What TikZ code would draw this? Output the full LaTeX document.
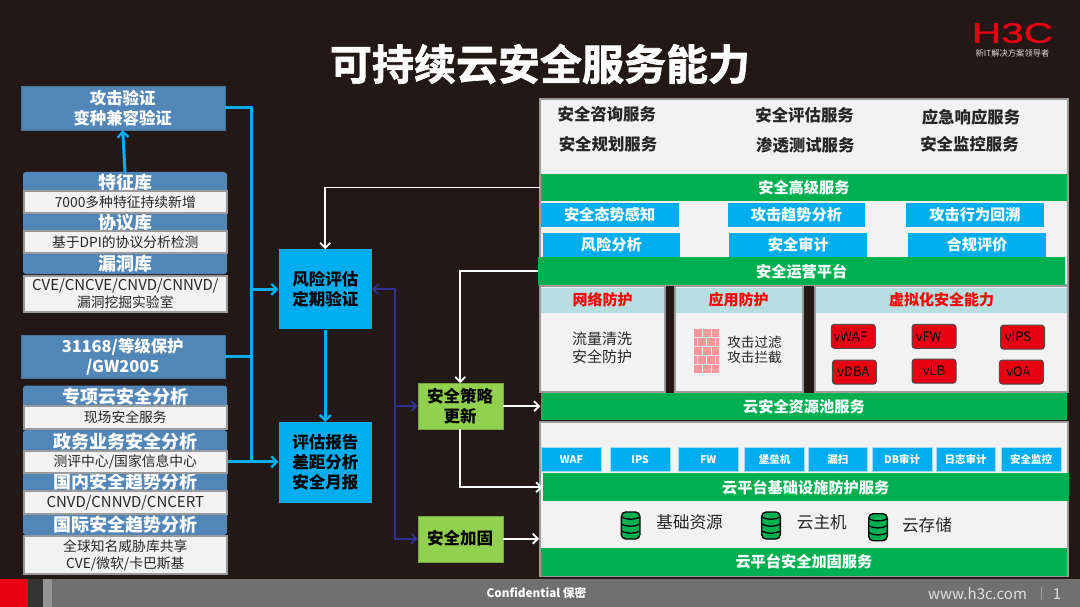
\documentclass[tikz,border=0pt]{standalone}
\usepackage{fontspec}
\setmainfont{Noto Sans CJK SC}
\newfontfamily\logofont[FakeBold=1.2]{Liberation Sans}
\newfontfamily\titlefont[FakeBold=1.6]{Noto Sans CJK SC Bold}
\usetikzlibrary{arrows.meta,shadows}
\definecolor{bgdark}{HTML}{231815}
\definecolor{steel}{HTML}{5286B7}
\definecolor{sky}{HTML}{00AEEF}
\definecolor{grass}{HTML}{92D050}
\definecolor{barg}{HTML}{00B050}
\definecolor{paper}{HTML}{F2F2F2}
\definecolor{rim}{HTML}{9A9A9A}
\definecolor{pale}{HTML}{B7DEE1}
\definecolor{navy}{HTML}{2E3192}
\definecolor{h3cred}{HTML}{E60012}
\definecolor{ink}{HTML}{262626}
\newcommand{\fs}[2]{\fontsize{#1}{#2}\selectfont}
\tikzset{
  sz/.style 2 args={minimum width=#1,minimum height=#2},
  steel box/.style={rectangle,fill=steel,draw=steel!85!black,inner sep=0pt,align=center,text=white,font=\fs{16.4}{20}\bfseries},
  head panel/.style={rectangle,rounded corners=3pt,fill=steel,inner sep=0pt},
  head text/.style={text=white,inner sep=0pt,font=\fs{18}{20}\bfseries},
  white box/.style={rectangle,fill=paper,draw=rim,line width=2pt,inner sep=0pt,align=center,text=ink,font=\fs{13.8}{16.8}},
  sky box/.style={rectangle,fill=sky,inner sep=0pt,align=center,text=black,font=\fs{16.5}{20}\bfseries},
  green box/.style={rectangle,fill=grass,draw=grass!80!black,inner sep=0pt,align=center,text=black,font=\fs{16.5}{20}\bfseries},
  panel/.style={rectangle,fill=paper,draw=rim,line width=2pt,inner sep=0pt},
  green bar/.style={rectangle,fill=barg,inner sep=0pt,text=white,font=\fs{15.2}{18}\bfseries},
  sky cell/.style={rectangle,fill=sky,inner sep=0pt,text=white,font=\fs{15.2}{18}\bfseries},
  tiny cell/.style={rectangle,fill=sky,draw=sky!40,line width=.5pt,inner sep=0pt,text=white,font=\fs{10.5}{12}\bfseries},
  svc/.style={inner sep=0pt,text=ink,font=\fs{16.4}{18}\bfseries},
  red head/.style={rectangle,fill=pale,inner sep=0pt,text=red,font=\fs{15}{18}\bfseries},
  plain text/.style={inner sep=0pt,text=ink,align=center},
  vbox/.style={rectangle,rounded corners=3pt,fill=h3cred,draw=black!70,line width=1pt,sz={44}{24},inner sep=0pt,text=black,font=\fs{13}{14},drop shadow={shadow xshift=0pt,shadow yshift=0pt,fill=black!60,opacity=.6}},
  blue line/.style={draw=sky,line width=3pt,arrows={-{Straight Barb[length=5.5pt,width=11pt,line width=2.4pt]}}},
  blue plain/.style={draw=sky,line width=3pt},
  navy line/.style={draw=navy,line width=2pt},
  navy tip/.style={arrows={-{Straight Barb[length=5pt,width=10pt,line width=1.8pt]}}},
  white line/.style={draw=white,line width=1.8pt,arrows={-{Straight Barb[length=5pt,width=10pt,line width=1.8pt]}}},
}
\begin{document}
\begin{tikzpicture}[x=1pt,y=-1pt]
\useasboundingbox (0,0) rectangle (1080,607);
\fill[bgdark] (0,0) rectangle (1080,607);
% title and logo
\node[text=white,inner sep=0pt] (title) at (540,64) {\titlefont\fs{42}{46}可持续云安全服务能力};
\node[text=h3cred,inner sep=0pt] (logo) at (1012.5,33) {\logofont\fs{28}{28}\scalebox{1.45}[1]{H3C}};
\node[text=white!85!black,inner sep=0pt] (slogan) at (1012.5,53) {\fs{8.3}{9}新IT解决方案领导者};
% footer
\fill[black!56] (0,579) rectangle (1080,607);
\fill[h3cred] (0,579) rectangle (28,607);
\fill[black!80] (28,579) rectangle (42.5,607);
\fill[black!42] (42.5,579) rectangle (52,607);
\node[text=white,inner sep=0pt] (conf) at (536.5,593) {\fs{11.7}{14}\bfseries Confidential 保密};
\node[text=white!88!black,inner sep=0pt] (web) at (977.5,594) {\fs{15}{18}www.h3c.com};
\node[text=white!70!black,inner sep=0pt] (sep) at (1041.5,594) {\fs{12}{14}|};
\node[text=white!88!black,inner sep=0pt] (page) at (1057,594) {\fs{15}{18}1};
% left column
\begin{scope}
\node[steel box,sz={204}{44}] (attack) at (122.7,108) {攻击验证\\变种兼容验证};
\node[head panel,sz={204}{102}] (panela) at (125,223) {};
\node[head text] (feat) at (125,182.7) {特征库};
\node[head text] (proto) at (125,222.7) {协议库};
\node[head text] (vuln) at (125,264) {漏洞库};
\node[white box,sz={203}{22}] (featb) at (125.3,202.5) {7000多种特征持续新增};
\node[white box,sz={203}{22}] (protob) at (125.3,242.3) {基于DPI的协议分析检测};
\node[white box,sz={203}{36.5}] (vulnb) at (125.3,293.8) {{\fs{15}{16.8}CVE/CNCVE/CNVD/CNNVD/}\\漏洞挖掘实验室};
\node[steel box,sz={204}{43.3}] (grade) at (122.7,356.7) {31168/等级保护\\/GW2005};
\node[head panel,sz={204}{26}] (panelb) at (125,398.7) {};
\node[head panel,sz={204}{105}] (panelc) at (125,482.5) {};
\node[head text] (spec) at (125,396.7) {专项云安全分析};
\node[head text] (gov) at (125,441.7) {政务业务安全分析};
\node[head text] (home) at (125,482) {国内安全趋势分析};
\node[head text] (intl) at (125,525) {国际安全趋势分析};
\node[white box,sz={203}{23}] (specb) at (125.3,417.2) {现场安全服务};
\node[white box,sz={203}{22}] (govb) at (125.3,461.8) {测评中心/国家信息中心};
\node[white box,sz={203}{22.5}] (homeb) at (125.3,502.5) {\fs{15}{16.8}CNVD/CNNVD/CNCERT};
\node[white box,sz={203}{38}] (intlb) at (125.3,555.3) {全球知名威胁库共享\\CVE/微软/卡巴斯基};
\end{scope}
% middle column
\begin{scope}
\node[sky box,sz={93.3}{80}] (risk) at (325.3,289.3) {风险评估\\定期验证};
\node[sky box,sz={93.3}{80.4}] (report) at (325.3,462.5) {评估报告\\差距分析\\安全月报};
\node[green box,sz={85}{45.7}] (policy) at (460.2,406.2) {安全策略\\更新};
\node[green box,sz={85}{46}] (harden) at (460.2,538.7) {安全加固};
\end{scope}
% right column, top block
\node[panel,sz={527.9}{186}] (toppanel) at (803.8,192.3) {};
\node[svc] (s1) at (606.8,114) {安全咨询服务};
\node[svc] (s2) at (804.6,115) {安全评估服务};
\node[svc] (s3) at (971,117.7) {应急响应服务};
\node[svc] (s4) at (608,144.3) {安全规划服务};
\node[svc] (s5) at (805.3,145) {渗透测试服务};
\node[svc] (s6) at (969.5,144.7) {安全监控服务};
\node[green bar,sz={526.8}{27}] (advbar) at (803.9,187.5) {安全高级服务};
\node[sky cell,sz={138.2}{24}] (c1) at (609.6,214.7) {安全态势感知};
\node[sky cell,sz={137.8}{24}] (c2) at (796.4,214.7) {攻击趋势分析};
\node[sky cell,sz={137.9}{24}] (c3) at (975,214.7) {攻击行为回溯};
\node[sky cell,sz={137.4}{24}] (c4) at (611.3,244.7) {风险分析};
\node[sky cell,sz={138.2}{24}] (c5) at (798.3,244.7) {安全审计};
\node[sky cell,sz={138}{24}] (c6) at (977,244.7) {合规评价};
\node[green bar,sz={526.5}{27.7}] (opsbar) at (801.7,271.2) {安全运营平台};
% right column, three protection panels
\node[panel,sz={125.6}{105.7}] (netp) at (602.6,338.8) {};
\node[panel,sz={128}{105.7}] (appp) at (738.5,338.8) {};
\node[panel,sz={253}{105.7}] (virp) at (941.5,338.8) {};
\node[red head,sz={123.6}{25}] (neth) at (602.6,300) {网络防护};
\node[red head,sz={126}{25}] (apph) at (738.5,300) {应用防护};
\node[red head,sz={251}{25}] (virh) at (941.5,300) {虚拟化安全能力};
\node[plain text,font=\fs{15}{18}] (wash) at (602,348.3) {流量清洗\\安全防护};
\foreach \r in {0,2,4}
  \foreach \c in {0,1,2}
    \fill[red!40] (694+\c*8.9,329.3+\r*8.9) rectangle +(7.6,7.6);
\foreach \r in {1,3}{
  \fill[red!40] (694,329.3+\r*8.9) rectangle +(3.2,7.6);
  \foreach \c in {0,1}
    \fill[red!40] (698.4+\c*8.9,329.3+\r*8.9) rectangle +(7.6,7.6);
  \fill[red!40] (716.2,329.3+\r*8.9) rectangle +(3.2,7.6);
}
\node[plain text,font=\fs{13.6}{15.7}] (filt) at (754.5,349.8) {攻击过滤\\攻击拦截};
\node[vbox] (vwaf) at (853.3,336.3) {vWAF\kern6pt};
\node[vbox] (vfw) at (934,336.4) {vFW\kern11pt};
\node[vbox] (vips) at (1022.5,337.2) {vIPS\kern9pt};
\node[vbox] (vdba) at (854.4,372.2) {vDBA\kern2pt};
\node[vbox] (vlb) at (934,371.2) {vLB};
\node[vbox] (voa) at (1021.4,372) {vOA\kern6pt};
\node[green bar,sz={526.8}{26.7}] (poolbar) at (803.9,406.7) {云安全资源池服务};
% right column, lower block
\node[panel,sz={527.7}{153.7}] (respanel) at (803.9,499.2) {};
\node[tiny cell,sz={59.6}{23.7}] (t1) at (571.4,459.2) {WAF};
\node[tiny cell,sz={59.6}{23.7}] (t2) at (640.2,459.2) {IPS};
\node[tiny cell,sz={59.6}{23.7}] (t3) at (708.2,459.2) {FW};
\node[tiny cell,sz={59.6}{23.7}] (t4) at (774.5,459.2) {堡垒机};
\node[tiny cell,sz={59.6}{23.7}] (t5) at (837.9,459.2) {漏扫};
\node[tiny cell,sz={59.6}{23.7}] (t6) at (902.1,459.2) {DB审计};
\node[tiny cell,sz={59.6}{23.7}] (t7) at (965.6,459.2) {日志审计};
\node[tiny cell,sz={59.6}{23.7}] (t8) at (1031.2,459.2) {安全监控};
\node[green bar,sz={526.2}{27.7}] (basebar) at (805.7,487.2) {云平台基础设施防护服务};
\foreach \cx/\cy in {630.6/525.5,771/525.5,878/527.2}{
  \draw[fill=barg,draw=black,line width=1.4pt,rounded corners=4.5pt] (\cx-9.3,\cy-13.5) rectangle (\cx+9.3,\cy+13.5);
  \foreach \dy in {-7,0,7}
    \draw[black,line width=1.3pt] (\cx-9.3,\cy+\dy-1.5) .. controls (\cx-4,\cy+\dy+1.5) and (\cx+4,\cy+\dy+1.5) .. (\cx+9.3,\cy+\dy-1.5);
}
\node[plain text,font=\fs{16.6}{18}] (basic) at (689.6,522) {基础资源};
\node[plain text,font=\fs{16.6}{18}] (host) at (821.8,522) {云主机};
\node[plain text,font=\fs{16.6}{18}] (store) at (927,525) {云存储};
\node[green bar,sz={526.8}{28}] (hardbar) at (803.9,561.7) {云平台安全加固服务};
% connectors
\coordinate (trunk) at (251,108);
\coordinate (trunkb) at (251,289.3);
\coordinate (trunkc) at (251,461.8);
\coordinate (bus) at (395,289.3);
\draw[blue line] (panela.north) -- (attack.south);
\draw[blue plain] (attack.east) -- (trunk) -- (trunkc);
\draw[blue plain] (grade.east) -- (grade.east -| trunk);
\draw[blue line] (trunkb) -- (risk.west);
\draw[blue line] (govb.east) -- (trunkc) -- (trunkc -| report.west);
\draw[blue line] (risk.south) -- (report.north);
\draw[navy line,navy tip] (bus) -- (risk.east);
\draw[navy line,navy tip] (bus) |- (policy.west);
\draw[navy line,navy tip] (bus) |- (harden.west);
\draw[white line] (advbar.west) -| (risk.north);
\draw[white line] (opsbar.west) -| (policy.north);
\draw[white line] (policy.east) -- (policy.east -| poolbar.west);
\draw[white line] (policy.south) |- (basebar.west);
\draw[white line] (harden.east) -- (harden.east -| respanel.west);
\end{tikzpicture}
\end{document}
